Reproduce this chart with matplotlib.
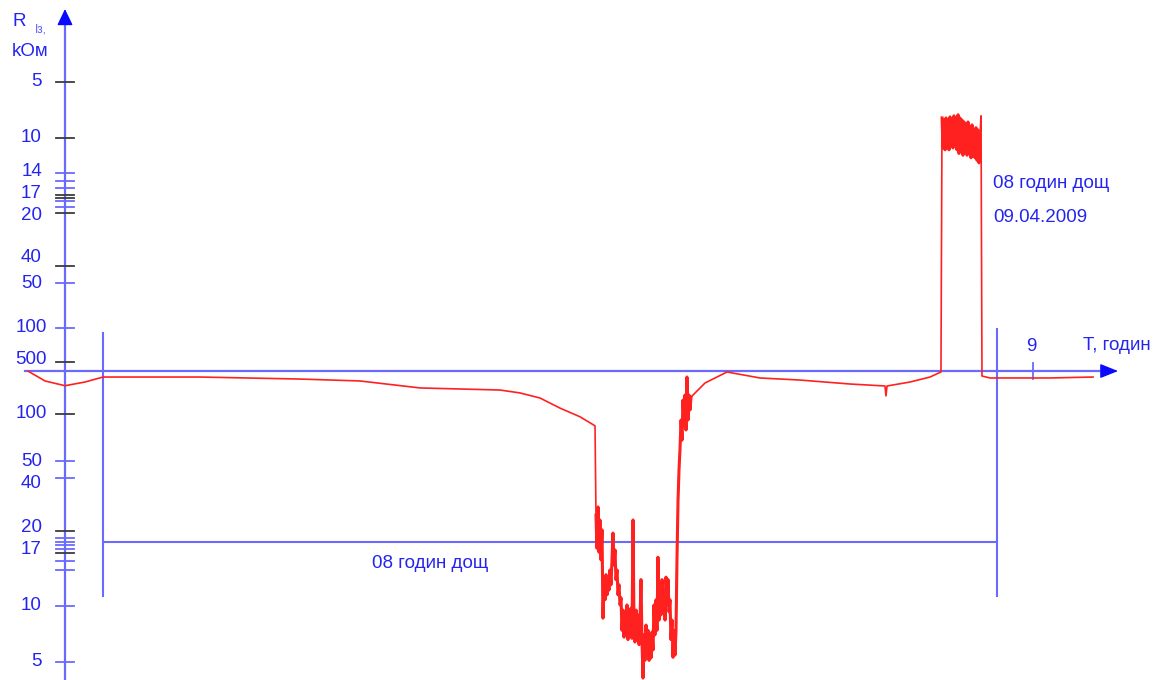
import numpy as np
import matplotlib
matplotlib.use("Agg")
import matplotlib.pyplot as plt

# ---------------- axis scale (two log-like half scales, value -> vertical position) -------------
# lower half: resistance grows upward towards the time axis; upper half: grows downward
low_knot_r = [1, 5, 10, 14, 17, 20, 40, 50, 100, 500]
low_knot_p = [792, 662, 606, 570, 553, 531, 478, 461, 414, 362]
up_knot_r = [1, 5, 10, 14, 17, 20, 40, 50, 100, 1000]
up_knot_p = [-48, 82, 138, 173, 195, 213, 266, 283, 328, 518]

# tick values
up_ticks = [5, 10, 14, 15, 16, 17, 17.5, 18, 19, 20, 40, 50, 100]
up_ticks_gray = [5, 10, 17, 17.5, 20, 40]
up_labels = [5, 10, 14, 17, 20, 40, 50, 100]
low_ticks = [500, 100, 50, 40, 20, 19, 18.5, 18, 17.5, 17, 15.5, 14, 10, 5]
low_ticks_gray = [500, 100, 20, 17]
low_labels = [500, 100, 50, 40, 20, 17, 10, 5]

x_tick_vals = [9]

# ---------------- data: time (hours), resistance (kOm); negative = upper-half scale ------------
base_t = [-0.345, -0.186, 0.000, 0.186, 0.354, 1.257, 2.188, 2.747, 3.305, 4.050,
          4.236, 4.423, 4.609, 4.795, 4.935]
base_r = [378, 278, 240, 269, 314, 314, 295, 278, 224, 210,
          192, 164, 120, 96, 84]

dip_t = [4.944, 4.953, 4.963, 4.972, 4.981, 4.991, 5.000, 5.009, 5.019, 5.028,
         5.037, 5.047, 5.056, 5.065, 5.074, 5.084, 5.093, 5.102, 5.112, 5.121,
         5.130, 5.140, 5.149, 5.158, 5.168, 5.177, 5.186, 5.196, 5.205, 5.214,
         5.223, 5.233, 5.242, 5.251, 5.261, 5.270, 5.279, 5.289, 5.298, 5.307,
         5.317, 5.326, 5.335, 5.345, 5.354, 5.363, 5.372, 5.382, 5.391, 5.400,
         5.410, 5.419, 5.428, 5.438, 5.447, 5.456, 5.466, 5.475, 5.484, 5.493,
         5.503, 5.512, 5.521, 5.531, 5.540, 5.549, 5.559, 5.568, 5.577, 5.587,
         5.596, 5.605, 5.615, 5.624, 5.633, 5.642, 5.652, 5.661, 5.670, 5.680,
         5.689, 5.698, 5.708, 5.717, 5.726, 5.736, 5.745, 5.754, 5.764, 5.773,
         5.782, 5.791, 5.801, 5.810, 5.819, 5.829]
dip_r = [24.6, 17.6, 27.4, 17.1, 23.1, 15.7, 20.3, 8.6, 12.8, 10.6,
         13.4, 11.1, 12.8, 11.6, 14.0, 12.2, 15.7, 19.7, 14.8, 17.4,
         12.8, 14.0, 11.1, 12.2, 10.1, 10.8, 7.4, 9.5, 6.8, 9.3,
         7.25, 10.1, 6.6, 8.95, 7.0, 9.75, 6.7, 23.1, 7.9, 6.4,
         9.5, 6.6, 8.95, 6.2, 8.4, 12.8, 6.6, 4.1, 7.0, 5.1,
         7.9, 5.45, 7.4, 5.1, 7.0, 5.25, 7.25, 5.8, 10.1, 7.0,
         10.6, 7.4, 16.2, 8.4, 12.2, 8.95, 12.8, 9.5, 11.6, 8.4,
         13.1, 10.1, 12.8, 9.3, 10.6, 6.6, 8.4, 5.3, 7.4, 5.45,
         7.4, 15.7, 30, 44.5, 59, 91.5, 68, 154, 85, 180,
         79, 314, 91.5, 180, 113, 169]

recov_t = [5.959, 6.164, 6.471, 6.844, 7.309, 7.635, 7.644, 7.654, 7.868, 8.054, 8.156]
recov_r = [261, 367, 305, 286, 253, 238, 175, 238, 269, 314, 367]

top_t = [8.166, 8.175, 8.184, 8.194, 8.203, 8.212, 8.222, 8.231, 8.240, 8.250,
         8.259, 8.268, 8.277, 8.287, 8.296, 8.305, 8.315, 8.324, 8.333, 8.343,
         8.352, 8.361, 8.371, 8.380, 8.389, 8.399, 8.408, 8.417, 8.426, 8.436,
         8.445, 8.454, 8.464, 8.473, 8.482, 8.492, 8.501, 8.510, 8.520, 8.529]
top_r = [-7.8, -11.0, -8.0, -11.2, -7.8, -10.7, -8.2, -11.2, -7.7, -10.5,
         -8.0, -11.0, -7.6, -10.7, -7.8, -11.2, -7.5, -11.6, -7.8, -11.2,
         -8.0, -11.8, -8.2, -11.2, -8.5, -11.8, -8.2, -11.6, -8.8, -12.1,
         -8.5, -11.8, -9.06, -12.1, -8.8, -12.4, -9.06, -12.7, -9.6, -7.6]

tail_t = [8.538, 8.613, 9.171, 9.572]
tail_r = [324, 305, 305, 314]

rain_start, rain_end = 0.354, 8.678
rain_level_r = 18.5
rain_top_r, rain_bottom_r = -106, 11.0
x_axis_r = 378

# ---------------- helpers ----------------
def to_pos(v):
    v = np.asarray(v, dtype=float)
    lv = np.log10(np.abs(v))
    lo = np.interp(lv, np.log10(low_knot_r), low_knot_p)
    up = np.interp(lv, np.log10(up_knot_r), up_knot_p)
    return np.where(v > 0, lo, up)

BLUE_TXT = "#2424f0"
BLUE_LINE = "#6a6aff"
GRAY = "#3c3c3c"
RED = "#ff2020"
FONT = "Liberation Sans"
FS = 13.5

fig = plt.figure(figsize=(11.61, 6.8), dpi=100)
ax = fig.add_axes([0, 0, 1, 1])
ax.set_xlim(-0.6052, 10.2048)
ax.set_ylim(680, 0)
ax.axis("off")

px_h = 1 / 107.4  # hours per pixel (horizontal)
axis_y = float(to_pos(x_axis_r))

# y axis
ax.plot([0, 0], [680, 20], color=BLUE_LINE, lw=1.6, zorder=2)
ax.annotate("", xy=(0, 9), xytext=(0, 24),
            arrowprops=dict(arrowstyle="-|>,head_length=0.5,head_width=0.24",
                            color="#0a0aff", lw=1.0, shrinkA=0, shrinkB=0,
                            mutation_scale=20), zorder=3)
# x axis
ax.plot([-0.370, 9.70], [axis_y, axis_y], color=BLUE_LINE, lw=1.6, zorder=2)
ax.annotate("", xy=(9.805, axis_y), xytext=(9.66, axis_y),
            arrowprops=dict(arrowstyle="-|>,head_length=0.55,head_width=0.22",
                            color="#0a0aff", lw=1.0, shrinkA=0, shrinkB=0,
                            mutation_scale=20), zorder=3)

# y ticks
tl = 9 * px_h
for v in up_ticks:
    p = float(to_pos(-v))
    ax.plot([-tl, tl], [p, p], color=GRAY if v in up_ticks_gray else BLUE_LINE,
            lw=1.3, zorder=3)
for v in low_ticks:
    p = float(to_pos(v))
    ax.plot([-tl, tl], [p, p], color=GRAY if v in low_ticks_gray else BLUE_LINE,
            lw=1.3, zorder=3)

up_label_shift = {40: -9, 17: -2, 20: 2, 14: -1}
low_label_shift = {500: -3, 40: 6, 20: -3, 17: -3}
for v in up_labels:
    p = float(to_pos(-v)) + up_label_shift.get(v, 0)
    xr = -18 * px_h if v >= 100 else -23 * px_h
    ax.text(xr, p, str(v), ha="right", va="center", fontsize=FS,
            color=BLUE_TXT, family=FONT)
for v in low_labels:
    p = float(to_pos(v)) + low_label_shift.get(v, 0)
    xr = -18 * px_h if v >= 100 else -23 * px_h
    ax.text(xr, p, str(v), ha="right", va="center", fontsize=FS,
            color=BLUE_TXT, family=FONT)

# x tick
for v in x_tick_vals:
    ax.plot([v + 0.01, v + 0.01], [axis_y - 8, axis_y + 8], color=BLUE_LINE, lw=1.3)
    ax.text(v, axis_y - 25, str(v), ha="center", va="center", fontsize=FS,
            color=BLUE_TXT, family=FONT)
ax.text(9.479, axis_y - 26, "T, годин", ha="left", va="center", fontsize=FS,
        color=BLUE_TXT, family=FONT)

# axis title
ax.text(-0.493, 22, "R", ha="left", va="center", fontsize=FS, color=BLUE_TXT, family=FONT)
ax.text(-0.285, 29, "Iз,", ha="left", va="center", fontsize=8.5, color="#5a5aff", family=FONT)
ax.text(-0.493, 52, "kОм", ha="left", va="center", fontsize=FS, color=BLUE_TXT, family=FONT)

# rain duration markers
rt, rb = float(to_pos(rain_top_r)), float(to_pos(rain_bottom_r))
rl = float(to_pos(rain_level_r))
ax.plot([rain_start, rain_start], [rt, rb], color=BLUE_LINE, lw=1.5, zorder=2)
ax.plot([rain_end, rain_end], [rt - 4, rb], color=BLUE_LINE, lw=1.5, zorder=2)
ax.plot([rain_start, rain_end], [rl, rl], color=BLUE_LINE, lw=1.5, zorder=2)
ax.text(3.399, 563, "08 годин дощ", ha="center", va="center", fontsize=FS,
        color=BLUE_TXT, family=FONT)
ax.text(8.641, 183, "08 годин дощ", ha="left", va="center", fontsize=FS,
        color=BLUE_TXT, family=FONT)
ax.text(8.641, 218, "09.04.2009", ha="left", va="center", fontsize=FS,
        color=BLUE_TXT, family=FONT)

# resistance trace
trace_t = np.concatenate([base_t, dip_t, recov_t, top_t, tail_t])
trace_r = np.concatenate([base_r, dip_r, recov_r, top_r, tail_r])
ax.plot(trace_t, to_pos(trace_r), color=RED, lw=1.2, zorder=4)
# noisy segments appear as a heavier band
ax.plot(dip_t, to_pos(dip_r), color=RED, lw=2.2, zorder=4)
ax.plot(top_t[:-1], to_pos(top_r[:-1]), color=RED, lw=2.2, zorder=4)

fig.savefig("out.png", dpi=100)
